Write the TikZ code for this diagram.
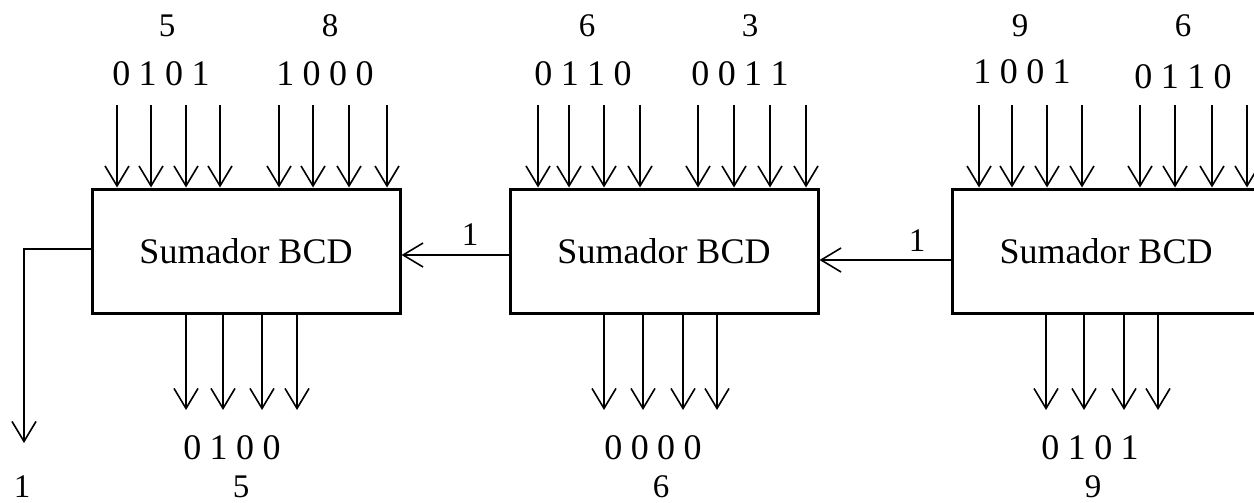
\documentclass[tikz,border=0pt]{standalone}
\usepackage{fontspec}
\setmainfont{Liberation Serif}
\usetikzlibrary{arrows.meta}
\newcommand\gp{\hspace{8.5pt}}
\tikzset{
  sumbox/.style={draw, line width=3pt, rectangle, minimum width=308pt, minimum height=124pt, inner sep=0pt, font=\fontsize{36}{40}\selectfont},
  wire/.style={line width=1.6pt, -{Straight Barb[length=20pt,width=24pt,line width=1.6pt]}},
  bin/.style={inner sep=0pt, font=\fontsize{36}{40}\selectfont},
  dec/.style={inner sep=0pt, font=\fontsize{33}{40}\selectfont},
}
\begin{document}
\begin{tikzpicture}[x=1pt,y=-1pt]
\clip (0,0) rectangle (1254,503);
\fill[white] (0,0) rectangle (1254,503);
% boxes
\node[sumbox] (b1) at (246,251) {Sumador BCD};
\node[sumbox] (b2) at (664,251) {Sumador BCD};
\node[sumbox] (b3) at (1106,251) {Sumador BCD};
% inputs
\foreach \x [count=\i] in {117,151,186,220,279,313,349,387} {
  \coordinate (i1\i) at (\x,105);
  \draw[wire] (i1\i) -- (i1\i |- b1.north);
}
\foreach \x [count=\i] in {538,569,604,640,698,734,770,806} {
  \coordinate (i2\i) at (\x,105);
  \draw[wire] (i2\i) -- (i2\i |- b2.north);
}
\foreach \x [count=\i] in {979,1012,1047,1082,1140,1175,1212,1247} {
  \coordinate (i3\i) at (\x,105);
  \draw[wire] (i3\i) -- (i3\i |- b3.north);
}
% outputs
\foreach \x [count=\i] in {186,223,262,297} {
  \coordinate (o1\i) at (\x,410);
  \draw[wire] (o1\i |- b1.south) -- (o1\i);
}
\foreach \x [count=\i] in {604,643,683,717} {
  \coordinate (o2\i) at (\x,410);
  \draw[wire] (o2\i |- b2.south) -- (o2\i);
}
\foreach \x [count=\i] in {1046,1084,1124,1158} {
  \coordinate (o3\i) at (\x,410);
  \draw[wire] (o3\i |- b3.south) -- (o3\i);
}
% carries
\coordinate (c32) at (0,260);
\draw[wire] (b3.west |- c32) -- (b2.east |- c32);
\coordinate (c21) at (0,255);
\draw[wire] (b2.west |- c21) -- (b1.east |- c21);
\coordinate (cbend) at (24,249);
\coordinate (cout) at (24,443);
\draw[wire] (b1.west |- cbend) -- (cbend) -- (cout);
% labels top
\node[dec] (t1) at (167,26) {5};
\node[dec] (t2) at (330,26) {8};
\node[bin] (t3) at (161,74) {0\gp1\gp0\gp1};
\node[bin] (t4) at (325,74) {1\gp0\gp0\gp0};
\node[dec] (t5) at (587,26) {6};
\node[dec] (t6) at (750,26) {3};
\node[bin] (t7) at (583,74) {0\gp1\gp1\gp0};
\node[bin] (t8) at (740,74) {0\gp0\gp1\gp1};
\node[dec] (t9) at (1020,26) {9};
\node[dec] (t10) at (1183,26) {6};
\node[bin] (t11) at (1022,72) {1\gp0\gp0\gp1};
\node[bin] (t12) at (1183,77) {0\gp1\gp1\gp0};
% carry labels
\node[dec] (k1) at (470,235) {1};
\node[dec] (k2) at (917,241) {1};
\node[dec] (k3) at (22,487) {1};
% bottom labels
\node[bin] (r1) at (232,448) {0\gp1\gp0\gp0};
\node[dec] (r2) at (241,487) {5};
\node[bin] (r3) at (653,448) {0\gp0\gp0\gp0};
\node[dec] (r4) at (661,487) {6};
\node[bin] (r5) at (1090,448) {0\gp1\gp0\gp1};
\node[dec] (r6) at (1093,487) {9};
\end{tikzpicture}
\end{document}
